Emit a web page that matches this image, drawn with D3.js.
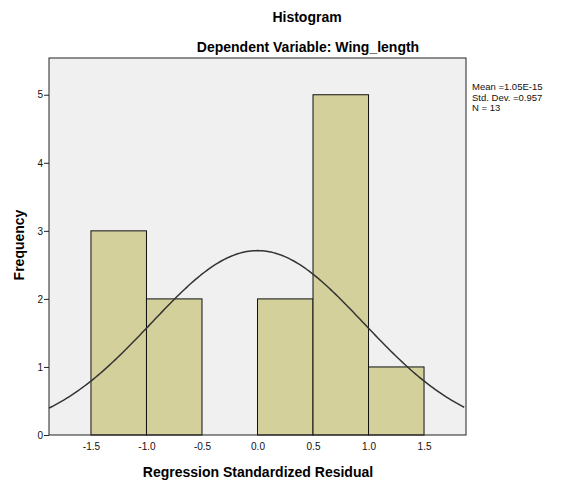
<!DOCTYPE html>
<html>
<head>
<meta charset="utf-8">
<script src="https://cdn.jsdelivr.net/npm/d3@7"></script>
<style>
  body { margin: 0; background: #fff; }
  text { font-family: "Liberation Sans", Arial, sans-serif; }
</style>
</head>
<body>
<svg class="chart" width="566" height="482"></svg>
<script>
let bin_lo = [-1.5, -1.0, -0.5, 0.0, 0.5, 1.0]
let bin_hi = [-1.0, -0.5, 0.0, 0.5, 1.0, 1.5]
let counts = [3, 2, 0, 2, 5, 1]
let x_ticks = [-1.5, -1.0, -0.5, 0.0, 0.5, 1.0, 1.5]
let y_ticks = [0, 1, 2, 3, 4, 5]

// stats shown in the legend, used for the normal curve
let mean = 1.05e-15
let sd = 0.957
let n = 13
let bin_width = 0.5

let margin = {left: 49, right: 100, top: 58, bottom: 47}
let width = 566
let height = 482

let svg = d3.select(".chart")

let x = d3.scaleLinear()
    .domain([-1.878, 1.878])
    .range([margin.left, width - margin.right])

let y = d3.scaleLinear()
    .domain([0, 5.54])
    .range([height - margin.bottom, margin.top])

// plot background
svg.append("rect")
    .attr("x", x.range()[0])
    .attr("y", y.range()[1])
    .attr("width", x.range()[1] - x.range()[0])
    .attr("height", y.range()[0] - y.range()[1])
    .attr("fill", "#f0f0f0")

let bins = counts.map((c, i) => ({lo: bin_lo[i], hi: bin_hi[i], count: c}))

svg.selectAll("rect.bar")
    .data(bins.filter(d => d.count > 0))
    .enter().append("rect")
    .classed("bar", true)
    .attr("x", d => x(d.lo))
    .attr("y", d => y(d.count))
    .attr("width", d => x(d.hi) - x(d.lo))
    .attr("height", d => y(0) - y(d.count))
    .attr("fill", "#d3d09b")
    .attr("stroke", "#111")
    .attr("stroke-width", 1)

// normal curve from mean / sd / n
let curve_x = d3.range(x.domain()[0], x.domain()[1] + 0.001, 0.02)
let dens = v => n * bin_width / (sd * Math.sqrt(2 * Math.PI)) * Math.exp(-0.5 * Math.pow((v - mean) / sd, 2))

svg.append("path")
    .datum(curve_x)
    .attr("d", d3.line().x(d => x(d)).y(d => y(dens(d))))
    .attr("fill", "none")
    .attr("stroke", "#333")
    .attr("stroke-width", 1.5)

// frame
svg.append("rect")
    .attr("x", x.range()[0])
    .attr("y", y.range()[1])
    .attr("width", x.range()[1] - x.range()[0])
    .attr("height", y.range()[0] - y.range()[1])
    .attr("fill", "none")
    .attr("stroke", "#222")
    .attr("stroke-width", 1)

// y axis
let yAxis = svg.append("g")
    .attr("transform", `translate(${x.range()[0]},0)`)
    .call(d3.axisLeft(y).tickValues(y_ticks).tickSize(5).tickPadding(1).tickFormat(d3.format("d")))
yAxis.select(".domain").remove()
yAxis.selectAll("line").attr("stroke", "#222")
yAxis.selectAll("text").attr("font-size", 10).attr("fill", "#111")

// x axis labels (plain hyphen for negatives)
let fmt = d => d.toFixed(1)
let xAxis = svg.append("g")
    .attr("transform", `translate(0,${y.range()[0]})`)
    .call(d3.axisBottom(x).tickValues(x_ticks).tickSize(0).tickPadding(8).tickFormat(fmt))
xAxis.select(".domain").remove()
xAxis.selectAll("text").attr("font-size", 10).attr("fill", "#111")

// titles
svg.append("text")
    .attr("x", 307).attr("y", 22)
    .attr("text-anchor", "middle")
    .attr("font-size", 14).attr("font-weight", "bold")
    .text("Histogram")

svg.append("text")
    .attr("x", 308).attr("y", 52)
    .attr("text-anchor", "middle")
    .attr("font-size", 14).attr("font-weight", "bold")
    .text("Dependent Variable: Wing_length")

svg.append("text")
    .attr("x", 258).attr("y", 477)
    .attr("text-anchor", "middle")
    .attr("font-size", 14).attr("font-weight", "bold")
    .text("Regression Standardized Residual")

svg.append("text")
    .attr("transform", "translate(24,245) rotate(-90)")
    .attr("text-anchor", "middle")
    .attr("font-size", 14).attr("font-weight", "bold")
    .text("Frequency")

// stats box
let stats = ["Mean =1.05E-15", "Std. Dev. =0.957", "N = 13"]
svg.selectAll("text.stat")
    .data(stats)
    .enter().append("text")
    .classed("stat", true)
    .attr("x", 472)
    .attr("y", (d, i) => 90 + i * 10.5)
    .attr("font-size", 9.5)
    .attr("fill", "#111")
    .text(d => d)
</script>
</body>
</html>
